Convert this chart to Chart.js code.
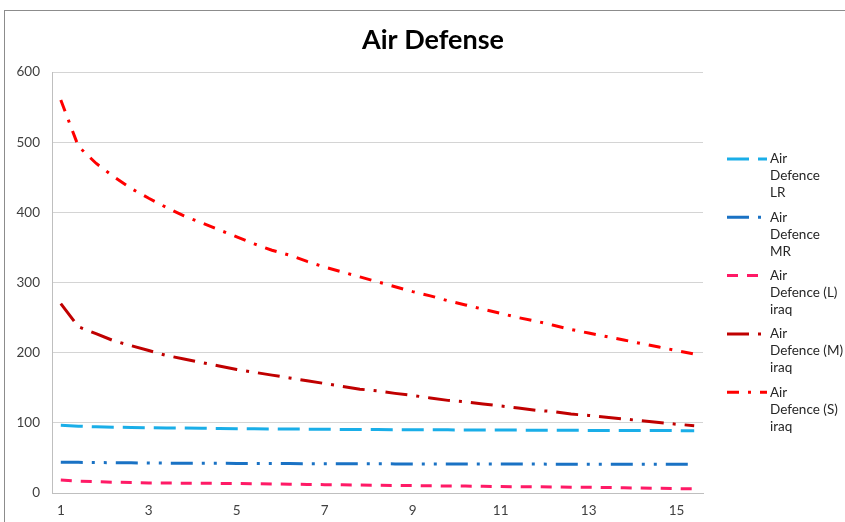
<!DOCTYPE html>
<html>
<head>
<meta charset="utf-8">
<title>Air Defense</title>
<script src="https://cdn.jsdelivr.net/npm/chart.js@4.4.1/dist/chart.umd.min.js"></script>
<style>
  html, body { margin: 0; padding: 0; background: #ffffff; }
  #wrap { position: relative; width: 845px; height: 522px; }
</style>
</head>
<body>
<div id="wrap"><canvas id="c" width="845" height="522"></canvas></div>
<script>
// Time steps (every fifth one is labelled on the axis)
const categories = [
  '1', '1.4', '1.8', '2.2', '2.6', '3', '3.4', '3.8', '4.2', '4.6',
  '5', '5.4', '5.8', '6.2', '6.6', '7', '7.4', '7.8', '8.2', '8.6',
  '9', '9.4', '9.8', '10.2', '10.6', '11', '11.4', '11.8', '12.2', '12.6',
  '13', '13.4', '13.8', '14.2', '14.6', '15', '15.4'
];

// Series values
const airDefenceLR = [
  96.5, 95.2, 94.3, 93.8, 93.4, 93.0, 92.7, 92.5, 92.2, 92.0,
  91.7, 91.5, 91.3, 91.1, 91.0, 90.8, 90.6, 90.5, 90.4, 90.3,
  90.2, 90.1, 90.0, 89.9, 89.8, 89.7, 89.6, 89.5, 89.4, 89.3,
  89.2, 89.1, 89.1, 89.0, 88.9, 88.9, 88.8
];
const airDefenceMR = [
  44.0, 43.7, 43.4, 43.2, 43.0, 42.8, 42.6, 42.5, 42.4, 42.3,
  42.2, 42.1, 42.0, 41.9, 41.8, 41.8, 41.7, 41.6, 41.6, 41.5,
  41.5, 41.4, 41.4, 41.3, 41.3, 41.2, 41.2, 41.2, 41.1, 41.1,
  41.1, 41.0, 41.0, 41.0, 41.0, 40.9, 40.9
];
const airDefenceLIraq = [
  18.5, 17.0, 16.2, 15.4, 14.8, 14.4, 14.2, 14.0, 13.8, 13.7,
  13.5, 13.2, 12.8, 12.5, 12.2, 11.9, 11.6, 11.3, 11.0, 10.8,
  10.5, 10.2, 10.0, 9.8, 9.5, 9.2, 9.0, 8.8, 8.6, 8.3,
  8.1, 7.8, 7.4, 7.1, 6.7, 6.3, 5.9
];
const airDefenceMIraq = [
  270, 237, 227, 217, 210, 203, 196, 191, 186, 181,
  176, 172, 168, 164, 160, 156, 152, 148, 145.5, 142,
  139, 135.5, 132, 130, 127, 124, 121, 118, 116, 112.5,
  110.5, 108, 105.5, 103, 100.5, 98, 96
];
const airDefenceSIraq = [
  560, 494, 470, 451, 434, 420, 407, 395, 385, 375,
  365, 355, 346, 339, 330, 322, 315, 308, 301, 294,
  287, 281, 274, 268, 262, 256, 250, 245, 239, 233,
  228, 223, 218, 213, 208, 203, 198
];

// Series names; the legend wraps them where "\n" appears
const seriesNames = [
  'Air\nDefence\nLR',
  'Air\nDefence\nMR',
  'Air\nDefence (L)\niraq',
  'Air\nDefence (M)\niraq',
  'Air\nDefence (S)\niraq'
];

const chartTitle = 'Air Defense';

// Y axis range
const yMin = 0;
const yMax = 600;
const yStep = 100;

const FONT = 'Lato, "Open Sans", "Liberation Sans", sans-serif';

function series(label, data, color, dash) {
  return {
    label: label,
    data: data,
    borderColor: color,
    backgroundColor: color,
    borderWidth: 3,
    borderDash: dash,
    borderCapStyle: 'butt',
    pointRadius: 0,
    pointHoverRadius: 0,
    tension: 0,
    fill: false
  };
}

// Title centred over the whole frame (plot + legend)
const centredTitle = {
  id: 'centredTitle',
  afterDraw(chart, args, opts) {
    const ctx = chart.ctx;
    ctx.save();
    ctx.fillStyle = '#000000';
    ctx.font = 'bold 27px ' + FONT;
    ctx.textAlign = 'center';
    ctx.textBaseline = 'middle';
    ctx.fillText(opts.text, 433, 40);
    ctx.restore();
  }
};

// Legend drawn at the right side, with multi-line names
const sideLegend = {
  id: 'sideLegend',
  afterDraw(chart) {
    const ctx = chart.ctx;
    const x0 = 727, x1 = 767, tx = 770;
    const top = 159, step = 58.3, lh = 17;
    ctx.save();
    chart.data.datasets.forEach((ds, i) => {
      const y = top + i * step;
      ctx.beginPath();
      ctx.strokeStyle = ds.borderColor;
      ctx.lineWidth = ds.borderWidth;
      ctx.lineCap = 'butt';
      ctx.setLineDash(ds.borderDash || []);
      ctx.moveTo(x0, y);
      ctx.lineTo(x1, y);
      ctx.stroke();
      ctx.setLineDash([]);
      ctx.fillStyle = '#262626';
      ctx.font = '13.5px ' + FONT;
      ctx.textAlign = 'left';
      ctx.textBaseline = 'middle';
      ds.label.split('\n').forEach((line, k) => {
        ctx.fillText(line, tx, y + k * lh);
      });
    });
    ctx.restore();
  }
};

// Outer frame of the chart
const frame = {
  id: 'frame',
  beforeDraw(chart) {
    const ctx = chart.ctx;
    ctx.save();
    ctx.fillStyle = '#ffffff';
    ctx.fillRect(0, 0, chart.width, chart.height);
    ctx.strokeStyle = '#8c8c8c';
    ctx.lineWidth = 1;
    ctx.strokeRect(4.5, 10.5, chart.width + 10, chart.height + 10);
    ctx.restore();
  }
};

new Chart(document.getElementById('c'), {
  type: 'line',
  data: {
    labels: categories,
    datasets: [
      series(seriesNames[0], airDefenceLR, '#1aaee8', [22, 9]),
      series(seriesNames[1], airDefenceMR, '#1a72c4', [22, 9, 3, 9, 3, 9]),
      series(seriesNames[2], airDefenceLIraq, '#ff1a66', [11, 9]),
      series(seriesNames[3], airDefenceMIraq, '#c00000', [22, 9, 3, 9]),
      series(seriesNames[4], airDefenceSIraq, '#ff0000', [12, 9, 3, 9])
    ]
  },
  options: {
    responsive: false,
    devicePixelRatio: 1,
    animation: false,
    layout: { padding: { left: 0, right: 142, top: 72, bottom: 0 } },
    plugins: {
      legend: { display: false },
      tooltip: { enabled: false },
      title: { display: false },
      centredTitle: { text: chartTitle }
    },
    scales: {
      x: {
        type: 'category',
        offset: true,
        grid: { display: false, drawTicks: false },
        border: { display: true, color: '#bfbfbf', width: 1 },
        ticks: {
          autoSkip: false,
          maxRotation: 0,
          minRotation: 0,
          padding: 10,
          color: '#404040',
          font: { family: FONT, size: 13.5 },
          callback: function (value, index) {
            return index % 5 === 0 ? this.getLabelForValue(value) : null;
          }
        },
        afterFit(scale) { scale.height = 29; }
      },
      y: {
        min: yMin,
        max: yMax,
        grid: { color: '#d4d4d4', lineWidth: 1, drawTicks: false },
        border: { display: true, color: '#bfbfbf', width: 1 },
        ticks: {
          stepSize: yStep,
          padding: 12,
          color: '#404040',
          font: { family: FONT, size: 13.5 }
        },
        afterFit(scale) { scale.width = 52; }
      }
    }
  },
  plugins: [frame, sideLegend, centredTitle]
});
</script>
</body>
</html>
